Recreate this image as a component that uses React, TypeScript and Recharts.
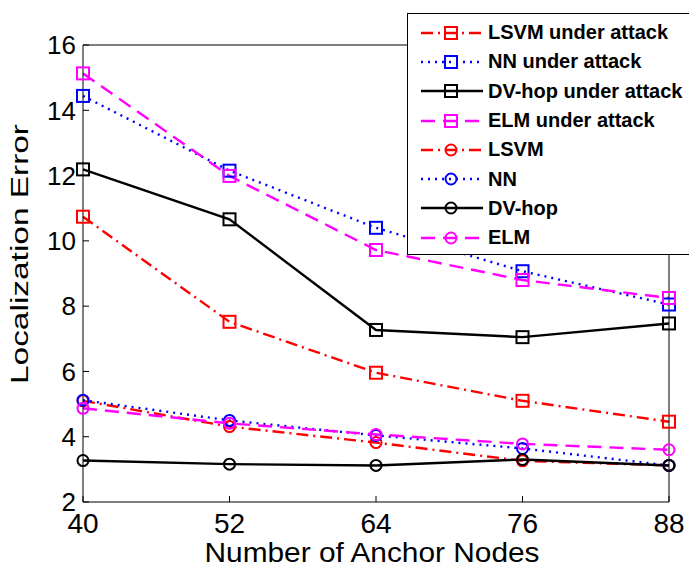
import { LineChart, Line, XAxis, YAxis, Legend, Label } from 'recharts'

const anchors = [40, 52, 64, 76, 88]
const lsvmAttack = [10.74, 7.52, 5.96, 5.1, 4.46]
const nnAttack = [14.44, 12.15, 10.4, 9.07, 8.05]
const dvhopAttack = [12.19, 10.66, 7.27, 7.05, 7.47]
const elmAttack = [15.13, 11.99, 9.72, 8.8, 8.25]
const lsvm = [5.1, 4.31, 3.82, 3.26, 3.12]
const nn = [5.12, 4.5, 4.04, 3.64, 3.12]
const dvhop = [3.27, 3.16, 3.12, 3.3, 3.12]
const elm = [4.87, 4.41, 4.07, 3.78, 3.6]
const xTicks = [40, 52, 64, 76, 88]
const yTicks = [2, 4, 6, 8, 10, 12, 14, 16]

const data = anchors.map((a, i) => ({
  anchors: a,
  lsvmAttack: lsvmAttack[i],
  nnAttack: nnAttack[i],
  dvhopAttack: dvhopAttack[i],
  elmAttack: elmAttack[i],
  lsvm: lsvm[i],
  nn: nn[i],
  dvhop: dvhop[i],
  elm: elm[i],
}))

const font = '"Liberation Sans", Arial, sans-serif'

const series = [
  { key: 'lsvmAttack', name: 'LSVM under attack', color: '#ff0000', dash: '12 5 2 5', marker: 'square' },
  { key: 'nnAttack', name: 'NN under attack', color: '#0000ff', dash: '2 5', marker: 'square' },
  { key: 'dvhopAttack', name: 'DV-hop under attack', color: '#000000', dash: undefined, marker: 'square' },
  { key: 'elmAttack', name: 'ELM under attack', color: '#ff00ff', dash: '14 8', marker: 'square' },
  { key: 'lsvm', name: 'LSVM', color: '#ff0000', dash: '12 5 2 5', marker: 'circle' },
  { key: 'nn', name: 'NN', color: '#0000ff', dash: '2 5', marker: 'circle' },
  { key: 'dvhop', name: 'DV-hop', color: '#000000', dash: undefined, marker: 'circle' },
  { key: 'elm', name: 'ELM', color: '#ff00ff', dash: '14 8', marker: 'circle' },
]

function Marker({ type, cx, cy, color }: { type: string; cx: number; cy: number; color: string }) {
  if (type === 'square') {
    return <rect x={cx - 6} y={cy - 6} width={12} height={12} fill='none' stroke={color} strokeWidth={2} />
  }
  return <circle cx={cx} cy={cy} r={5.5} fill='none' stroke={color} strokeWidth={2} />
}

function makeDot(type: string, color: string) {
  return (props: any) => {
    const { cx, cy, index } = props
    if (cx == null || cy == null) return <g key={`e-${index}`} />
    return (
      <g key={`m-${index}`}>
        <Marker type={type} cx={cx} cy={cy} color={color} />
      </g>
    )
  }
}

function LegendBox() {
  return (
    <div
      style={{
        width: 288,
        height: 242,
        boxSizing: 'border-box',
        border: '1px solid #000',
        background: '#fff',
        paddingTop: 4,
      }}
    >
      {series.map((s) => (
        <div key={s.key} style={{ display: 'flex', alignItems: 'center', height: 29.3 }}>
          <svg width={78} height={20} style={{ flex: 'none' }}>
            <line x1={13} y1={10} x2={75} y2={10} stroke={s.color} strokeWidth={2.4} strokeDasharray={s.dash} />
            <Marker type={s.marker} cx={43} cy={10} color={s.color} />
          </svg>
          <span
            style={{
              fontFamily: font,
              fontWeight: 'bold',
              fontSize: 20,
              color: '#000',
              marginLeft: 2,
              whiteSpace: 'nowrap',
            }}
          >
            {s.name}
          </span>
        </div>
      ))}
    </div>
  )
}

const YTitle = () => (
  <text
    x={28}
    y={254}
    transform='rotate(-90, 28, 254)'
    textAnchor='middle'
    fontFamily={font}
    fontSize={23}
    fill='#000'
    textLength={260}
    lengthAdjust='spacingAndGlyphs'
  >
    Localization Error
  </text>
)

const XTitle = () => (
  <text
    x={372}
    y={562}
    textAnchor='middle'
    fontFamily={font}
    fontSize={27}
    fill='#000'
    textLength={335}
    lengthAdjust='spacingAndGlyphs'
  >
    Number of Anchor Nodes
  </text>
)

export default function App() {
  return (
    <div
      style={{
        position: 'fixed',
        left: 0,
        top: 0,
        width: 689,
        height: 569,
        overflow: 'hidden',
        background: '#fff',
      }}
    >
      <LineChart width={689} height={569} data={data} margin={{ top: 44, right: 19, bottom: 0, left: 0 }}>
        <XAxis
          dataKey='anchors'
          type='number'
          domain={[40, 88]}
          ticks={xTicks}
          height={67}
          tickSize={-6}
          tickMargin={17}
          stroke='#000'
          tick={{ fill: '#000', fontSize: 28, fontFamily: font }}
        >
          <Label content={XTitle} />
        </XAxis>
        <XAxis
          xAxisId='top'
          orientation='top'
          dataKey='anchors'
          type='number'
          domain={[40, 88]}
          ticks={xTicks}
          height={1}
          tickSize={-6}
          stroke='#000'
          tick={false}
        />
        <YAxis
          type='number'
          domain={[2, 16]}
          ticks={yTicks}
          width={83}
          tickSize={-6}
          tickMargin={13}
          stroke='#000'
          tick={{ fill: '#000', fontSize: 26, fontFamily: font }}
        >
          <Label content={YTitle} />
        </YAxis>
        <YAxis
          yAxisId='right'
          orientation='right'
          type='number'
          domain={[2, 16]}
          ticks={yTicks}
          width={1}
          tickSize={-6}
          stroke='#000'
          tick={false}
        />
        {series.map((s) => (
          <Line
            key={s.key}
            dataKey={s.key}
            name={s.name}
            stroke={s.color}
            strokeWidth={2.4}
            strokeDasharray={s.dash}
            dot={makeDot(s.marker, s.color)}
            activeDot={false}
            isAnimationActive={false}
          />
        ))}
        <Legend
          layout='vertical'
          align='center'
          verticalAlign='middle'
          content={LegendBox}
          wrapperStyle={{ left: 407, top: 13, width: 288, height: 242 }}
        />
      </LineChart>
    </div>
  )
}
